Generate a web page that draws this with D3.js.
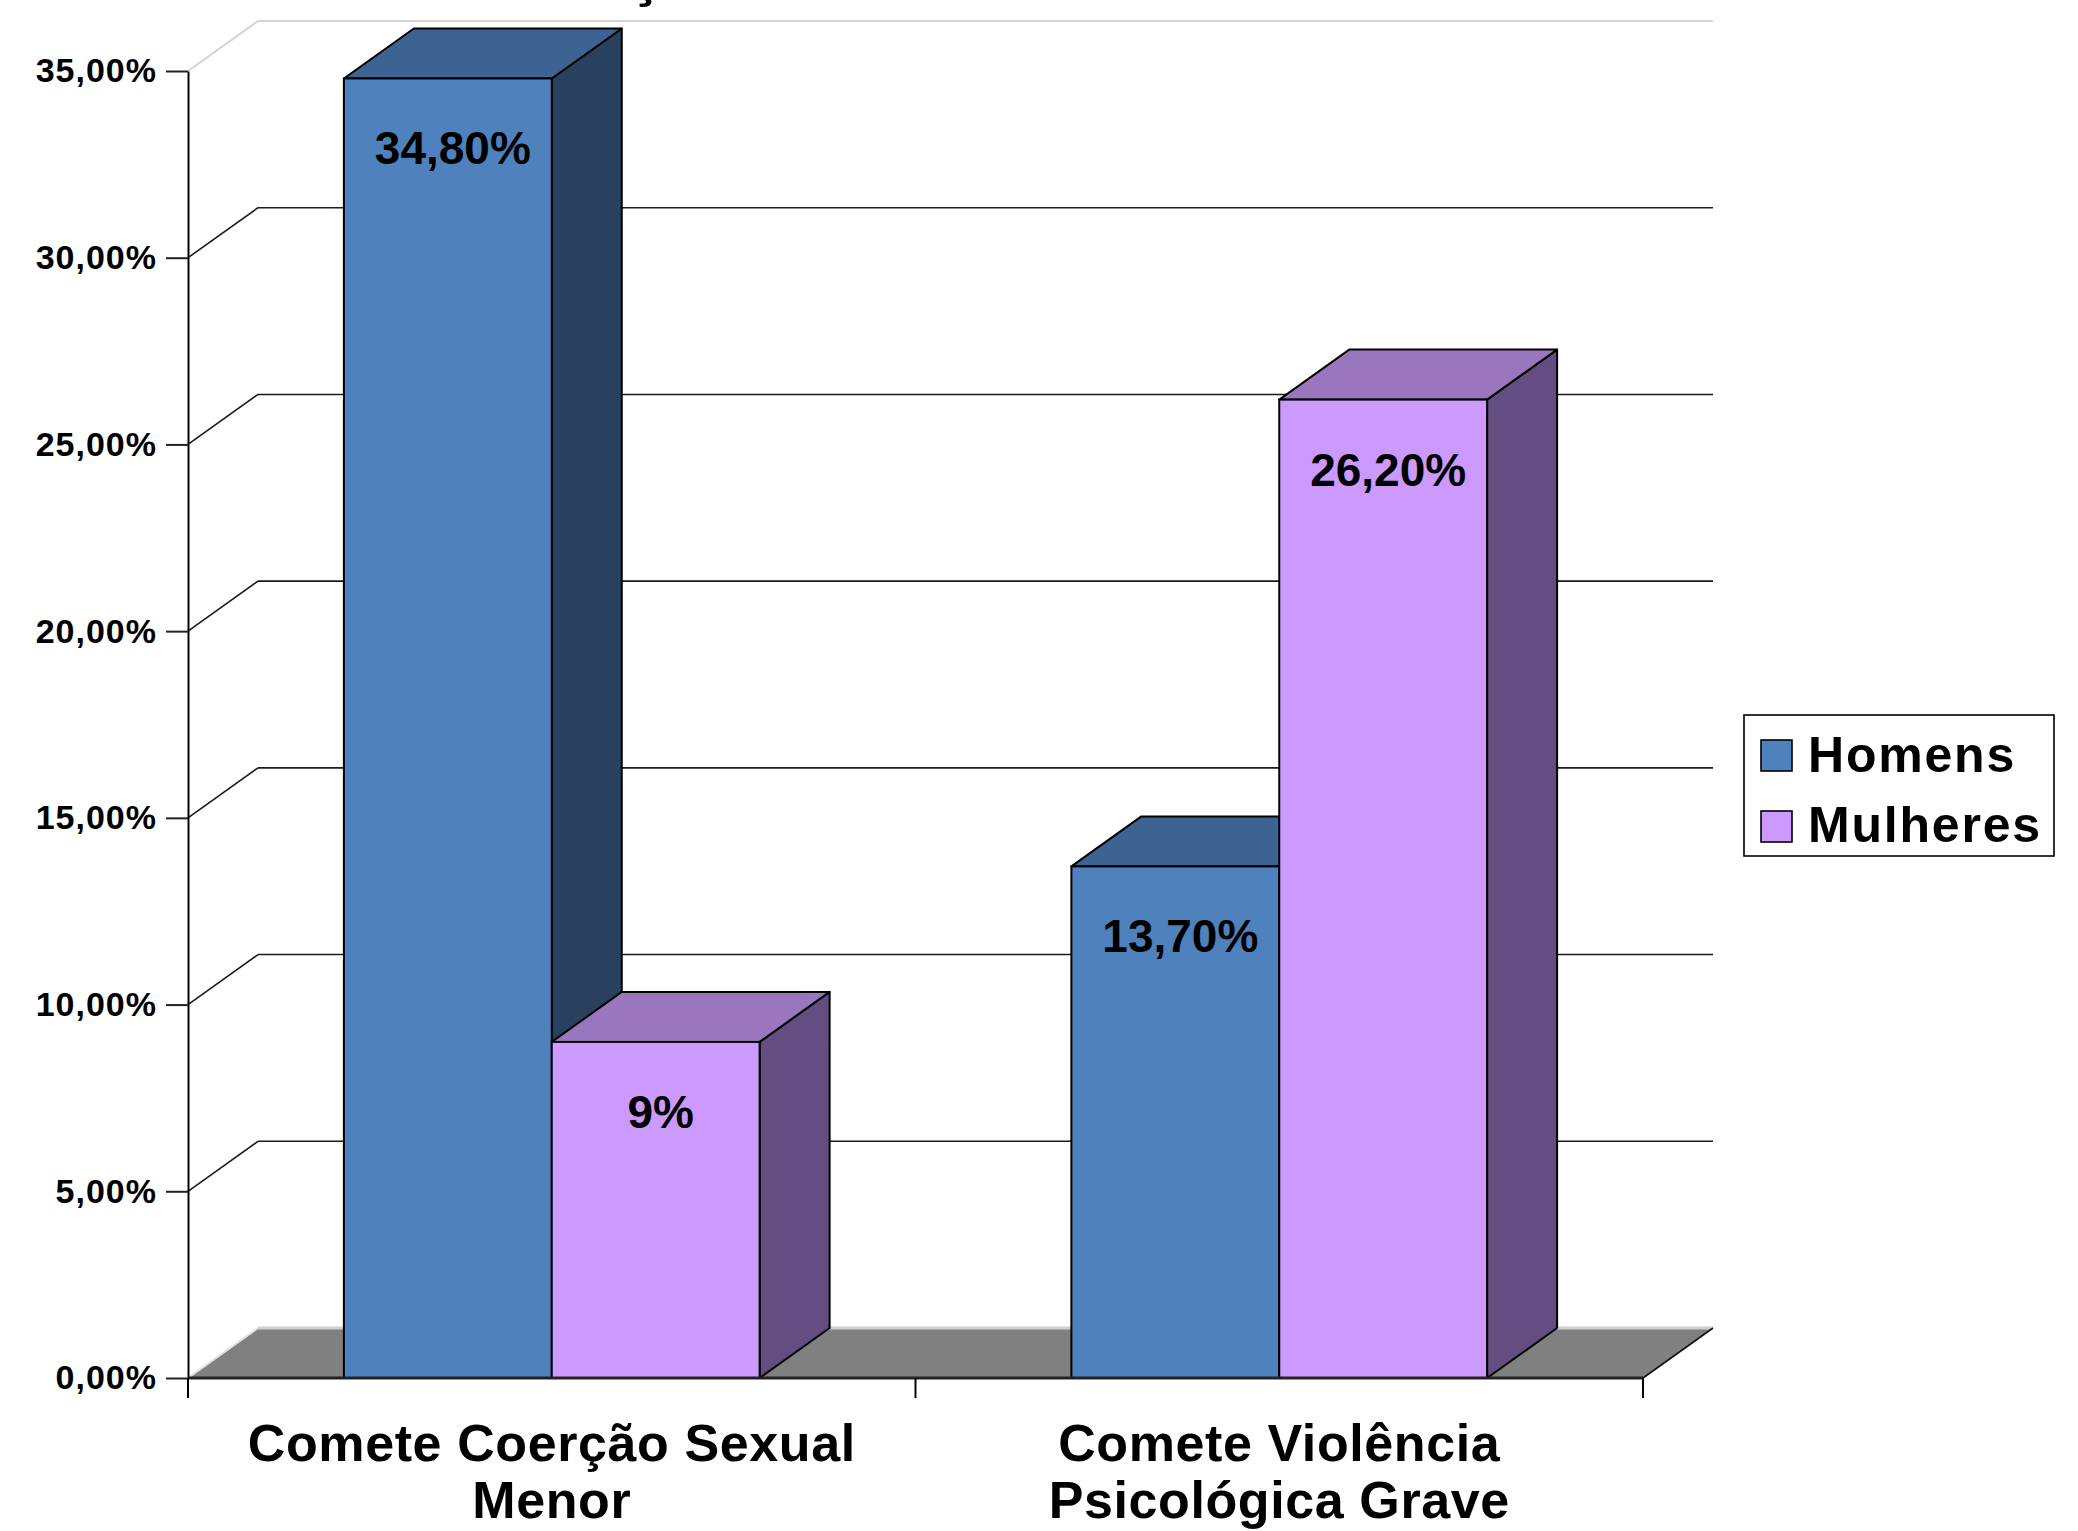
<!DOCTYPE html>
<html>
<head>
<meta charset="utf-8">
<script src="https://cdn.jsdelivr.net/npm/d3@7"></script>
<style>
  html, body { margin: 0; padding: 0; background: #ffffff; }
  svg { display: block; }
  text { font-family: "Liberation Sans", Arial, sans-serif; font-weight: bold; fill: #000; }
</style>
</head>
<body>
<svg id="chart" width="2078" height="1531"></svg>
<script>
// ---- data ----
const categories = [["Comete Coerção Sexual", "Menor"], ["Comete Violência", "Psicológica Grave"]];
const seriesNames = ["Homens", "Mulheres"];
const homensValues = [34.8, 13.7];
const mulheresValues = [9, 26.2];
const homensLabels = ["34,80%", "13,70%"];
const mulheresLabels = ["9%", "26,20%"];
const yTicks = [0, 5, 10, 15, 20, 25, 30, 35];

(function () {
const seriesValues = [homensValues, mulheresValues];
const seriesLabels = [homensLabels, mulheresLabels];
const colors = {
  Homens:   { front: "#4F81BD", top: "#3C6391", side: "#29405F" },
  Mulheres: { front: "#CC99FF", top: "#9A76BF", side: "#644D80" }
};

// ---- layout ----
const svg = d3.select("#chart");
const pLeft = 188, pRight = 1643, pTop = 71, pBottom = 1378;
const dx = 70, dy = -50; // depth offset

const catKeys = categories.map(c => c.join(" "));
const y = d3.scaleLinear().domain([0, 35]).range([pBottom, pTop]);
const x0 = d3.scaleBand().domain(catKeys).range([pLeft, pRight]).paddingInner(0).paddingOuter(0);
const x1 = d3.scaleBand().domain(seriesNames).range([0, x0.bandwidth()]).paddingInner(0).paddingOuter(0.75);

const locale = d3.formatLocale({ decimal: ",", thousands: ".", grouping: [3], currency: ["", ""] });
const fmt = locale.format(".2f");

// partial title (cut off at top in the reference)
svg.append("text").attr("x", 645).attr("y", -5).attr("text-anchor", "middle")
  .style("font-size", "60px").text("ç");

// ---- back wall gridlines & side-wall diagonals ----
const grid = svg.append("g");
yTicks.filter(v => v > 0).forEach(v => {
  const light = v === 35;
  const col = light ? "#d4d4d4" : "#1a1a1a";
  const w = light ? 2 : 1.6;
  grid.append("line").attr("x1", pLeft + dx).attr("x2", pRight + dx)
    .attr("y1", y(v) + dy).attr("y2", y(v) + dy).attr("stroke", col).attr("stroke-width", w);
  grid.append("line").attr("x1", pLeft).attr("x2", pLeft + dx)
    .attr("y1", y(v)).attr("y2", y(v) + dy).attr("stroke", col).attr("stroke-width", w);
});

// ---- floor ----
svg.append("polygon")
  .attr("points", [[pLeft, y(0)], [pRight, y(0)], [pRight + dx, y(0) + dy], [pLeft + dx, y(0) + dy]].map(p => p.join(",")).join(" "))
  .attr("fill", "#808080");
svg.append("line").attr("x1", pLeft + dx).attr("x2", pRight + dx).attr("y1", y(0) + dy).attr("y2", y(0) + dy)
  .attr("stroke", "#cfcfcf").attr("stroke-width", 3);
svg.append("line").attr("x1", pLeft).attr("x2", pLeft + dx).attr("y1", y(0)).attr("y2", y(0) + dy)
  .attr("stroke", "#e0e0e0").attr("stroke-width", 2);
svg.append("line").attr("x1", pRight).attr("x2", pRight + dx).attr("y1", y(0)).attr("y2", y(0) + dy)
  .attr("stroke", "#111").attr("stroke-width", 1.6);

// ---- bars ----
const bars = svg.append("g");
catKeys.forEach((ck, ci) => {
  seriesNames.forEach((s, si) => {
    const v = seriesValues[si][ci];
    const xl = x0(ck) + x1(s), xr = xl + x1.bandwidth();
    const yt = y(v), yb = y(0);
    const c = colors[s];
    const stroke = "#000", sw = 2;
    bars.append("polygon")
      .attr("points", [[xr, yt], [xr + dx, yt + dy], [xr + dx, yb + dy], [xr, yb]].map(p => p.join(",")).join(" "))
      .attr("fill", c.side).attr("stroke", stroke).attr("stroke-width", sw).attr("stroke-linejoin", "round");
    bars.append("polygon")
      .attr("points", [[xl, yt], [xl + dx, yt + dy], [xr + dx, yt + dy], [xr, yt]].map(p => p.join(",")).join(" "))
      .attr("fill", c.top).attr("stroke", stroke).attr("stroke-width", sw).attr("stroke-linejoin", "round");
    bars.append("rect").attr("x", xl).attr("y", yt).attr("width", xr - xl).attr("height", yb - yt)
      .attr("fill", c.front).attr("stroke", stroke).attr("stroke-width", sw);
  });
});

// ---- data labels ----
catKeys.forEach((ck, ci) => {
  seriesNames.forEach((s, si) => {
    const v = seriesValues[si][ci];
    const cx = x0(ck) + x1(s) + x1.bandwidth() / 2 + 5;
    svg.append("text").attr("x", cx).attr("y", y(v) + 86).attr("text-anchor", "middle")
      .style("font-size", "46px").text(seriesLabels[si][ci]);
  });
});

// ---- y axis ----
const yAxis = d3.axisLeft(y).tickValues(yTicks).tickSize(22).tickSizeOuter(0).tickPadding(9)
  .tickFormat(d => fmt(d) + "%");
const gy = svg.append("g").attr("transform", `translate(${pLeft},0)`).call(yAxis);
gy.select(".domain").attr("stroke", "#000").attr("stroke-width", 2);
gy.selectAll(".tick line").attr("stroke", "#222").attr("stroke-width", 2);
gy.selectAll(".tick text").attr("fill", "#000")
  .style("font-family", "'Liberation Sans', Arial, sans-serif").style("font-weight", "bold")
  .style("font-size", "34px").style("letter-spacing", "1px");
svg.append("line").attr("x1", pLeft).attr("x2", pLeft).attr("y1", y(0)).attr("y2", y(0) + 20)
  .attr("stroke", "#000").attr("stroke-width", 2);

// ---- x axis ----
svg.append("line").attr("x1", pLeft).attr("x2", pRight).attr("y1", y(0)).attr("y2", y(0))
  .attr("stroke", "#222").attr("stroke-width", 3);
const boundaries = catKeys.map(ck => x0(ck)).concat([x0(catKeys[catKeys.length - 1]) + x0.bandwidth()]);
boundaries.forEach(bx => {
  svg.append("line").attr("x1", bx).attr("x2", bx).attr("y1", y(0)).attr("y2", y(0) + 20)
    .attr("stroke", "#000").attr("stroke-width", 2);
});
catKeys.forEach((ck, ci) => {
  const cx = x0(ck) + x0.bandwidth() / 2;
  const t = svg.append("text").attr("text-anchor", "middle").attr("x", cx).attr("y", 1461)
    .style("font-size", "52px").style("letter-spacing", "0.6px");
  categories[ci].forEach((line, li) => {
    t.append("tspan").attr("x", cx).attr("dy", li === 0 ? 0 : 57).text(line);
  });
});

// ---- legend ----
const lg = svg.append("g");
lg.append("rect").attr("x", 1744).attr("y", 715).attr("width", 310).attr("height", 141)
  .attr("fill", "#fff").attr("stroke", "#000").attr("stroke-width", 1.6);
seriesNames.forEach((s, i) => {
  lg.append("rect").attr("x", 1761).attr("y", 740 + i * 71).attr("width", 31).attr("height", 31)
    .attr("fill", colors[s].front).attr("stroke", "#000").attr("stroke-width", 1.6);
  lg.append("text").attr("x", 1808).attr("y", 772 + i * 70)
    .style("font-size", "50px").style("letter-spacing", "1.8px").text(s);
});
})();
</script>
</body>
</html>
